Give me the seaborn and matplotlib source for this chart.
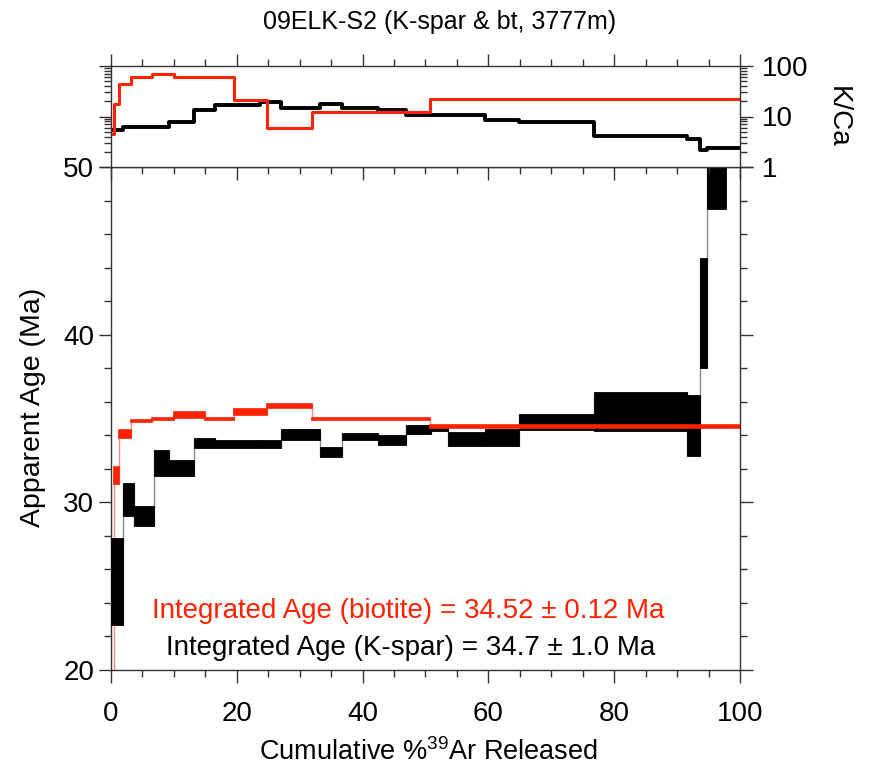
import numpy as np
import matplotlib
matplotlib.use("Agg")
import matplotlib.pyplot as plt
import seaborn as sns
from matplotlib.ticker import MultipleLocator, FixedLocator, NullFormatter, FixedFormatter

# ---------------- data ----------------
kspar_edges = [0, 1.96, 3.7, 6.88, 9.27, 13.24, 16.53, 23.7, 27.1, 33.2, 36.8, 42.4,
               46.85, 50.8, 53.6, 59.5, 64.9, 76.8, 91.6, 93.6, 94.8, 97.7, 100]
kspar_age = [25.3, 30.16, 29.18, 32.35, 32.05, 33.55, 33.47, 33.47, 34.03, 33.0, 33.93,
             33.7, 34.36, 34.44, 33.78, 33.86, 34.77, 35.43, 34.61, 41.29, 50.0, np.nan]
kspar_err = [2.6, 1.0, 0.62, 0.75, 0.45, 0.3, 0.22, 0.22, 0.32, 0.3, 0.22,
             0.3, 0.26, 0.16, 0.43, 0.49, 0.47, 1.15, 1.82, 3.26, 2.5, np.nan]
kspar_kca = [5.4, 6.1, 6.1, 6.1, 7.9, 13.4, 16.9, 19.1, 15.0, 17.4, 15.0,
             13.4, 10.5, 10.5, 10.5, 8.4, 7.8, 4.1, 3.6, 2.2, 2.4, 2.4]

bt_edges = [0, 0.4, 1.22, 3.25, 6.5, 10.05, 14.95, 19.6, 24.75, 32.0, 50.7, 100]
bt_age = [12.0, 31.6, 34.09, 34.84, 34.98, 35.22, 34.98, 35.37, 35.72, 34.98, 34.52]
bt_err = [2.0, 0.5, 0.25, 0.07, 0.07, 0.18, 0.07, 0.17, 0.12, 0.07, 0.07]
bt_kca = [4.5, 17.7, 44.0, 59.7, 68.5, 59.7, 59.7, 21.2, 6.0, 12.3, 21.9]

title = "09ELK-S2 (K-spar & bt, 3777m)"
bt_label = "Integrated Age (biotite) = 34.52 \u00b1 0.12 Ma"
ks_label = "Integrated Age (K-spar) = 34.7 \u00b1 1.0 Ma"

RED = "#ff2200"
BLACK = "#000000"
FRAME = "#333333"

sns.set_theme(style="ticks")
plt.rcParams["font.family"] = ["Liberation Sans", "DejaVu Sans"]
plt.rcParams["mathtext.fontset"] = "custom"
plt.rcParams["mathtext.rm"] = "Liberation Sans"
plt.rcParams["mathtext.it"] = "Liberation Sans:italic"
for k in ["text.color", "axes.labelcolor", "xtick.labelcolor", "ytick.labelcolor"]:
    plt.rcParams[k] = "black"

W, H = 869, 774
fig = plt.figure(figsize=(W / 100, H / 100), dpi=100)

def fx(px):
    return px / W

def fy(py):
    return 1 - py / H

L, R = 111, 740
main_top, main_bot = 167, 670
top_top = 66
ax = fig.add_axes([fx(L), fy(main_bot), fx(R) - fx(L), fy(main_top) - fy(main_bot)])
axt = fig.add_axes([fx(L), fy(main_top), fx(R) - fx(L), fy(top_top) - fy(main_top)])


def draw_spectrum(ax, edges, age, err, color, conn_color, edge_lw):
    edges = np.asarray(edges, float)
    age = np.asarray(age, float)
    err = np.asarray(err, float)
    lo = age - err
    hi = age + err
    # connectors
    for i in range(len(age) - 1):
        if np.isnan(age[i]) or np.isnan(age[i + 1]):
            continue
        y0 = min(lo[i], lo[i + 1])
        y1 = max(hi[i], hi[i + 1])
        ax.vlines(edges[i + 1], y0, y1, color=conn_color, lw=1.0, zorder=2)
    ok = ~np.isnan(age)
    ax.bar(edges[:-1][ok], (hi - lo)[ok], width=np.diff(edges)[ok], bottom=lo[ok],
           align="edge", color=color, edgecolor=color, linewidth=edge_lw, zorder=3)


draw_spectrum(ax, kspar_edges, kspar_age, kspar_err, BLACK, "#8a8a8a", 0.6)
draw_spectrum(ax, bt_edges, bt_age, bt_err, RED, "#ff8c80", 1.2)

ax.set_xlim(0, 100)
ax.set_ylim(20, 50)
ax.xaxis.set_major_locator(MultipleLocator(20))
ax.xaxis.set_minor_locator(MultipleLocator(5))
ax.yaxis.set_major_locator(MultipleLocator(10))
ax.yaxis.set_minor_locator(MultipleLocator(2))
ax.tick_params(which="both", direction="out", color=FRAME, width=1,
               left=True, right=True, bottom=True, top=False,
               labelright=False, labelsize=20, labelcolor="black")
ax.tick_params(which="major", length=9)
ax.tick_params(which="minor", length=5)
ax.tick_params(axis="x", which="major", pad=13)
ax.tick_params(axis="y", which="major", pad=3)
for s in ax.spines.values():
    s.set_visible(True)
    s.set_color(FRAME)
    s.set_linewidth(1)
ax.set_xlabel("")
ax.set_ylabel("")

# K/Ca panel
ks_x = list(kspar_edges)
ks_y = list(kspar_kca) + [kspar_kca[-1]]
bt_x = list(bt_edges)
bt_y = list(bt_kca) + [bt_kca[-1]]
sns.lineplot(x=ks_x, y=ks_y, ax=axt, color=BLACK, lw=2.8, drawstyle="steps-post",
             estimator=None, sort=False, legend=False)
sns.lineplot(x=bt_x, y=bt_y, ax=axt, color=RED, lw=2.2, drawstyle="steps-post",
             estimator=None, sort=False, legend=False)
axt.set_yscale("log")
axt.set_xlim(0, 100)
axt.set_ylim(1, 100)
axt.xaxis.set_major_locator(MultipleLocator(20))
axt.xaxis.set_minor_locator(MultipleLocator(5))
axt.yaxis.set_major_locator(FixedLocator([1, 10, 100]))
axt.yaxis.set_major_formatter(FixedFormatter(["1", "10", "100"]))
minors = [m * 10 ** d for d in range(0, 2) for m in range(2, 10)]
axt.yaxis.set_minor_locator(FixedLocator(minors))
axt.yaxis.set_minor_formatter(NullFormatter())
axt.tick_params(which="both", direction="out", color=FRAME, width=1,
                top=True, bottom=True, left=True, right=True,
                labelbottom=False, labeltop=False, labelleft=False, labelright=True,
                labelsize=20, labelcolor="black")
axt.tick_params(which="major", length=9)
axt.tick_params(which="minor", length=5)
axt.tick_params(axis="y", which="major", pad=7)
for s in axt.spines.values():
    s.set_visible(True)
    s.set_color(FRAME)
    s.set_linewidth(1)
axt.set_xlabel("")
axt.set_ylabel("")

# texts
fig.text(fx(440), fy(22), title, ha="center", va="center", fontsize=18)
fig.text(fx(33), fy(407), "Apparent Age (Ma)", ha="center", va="center",
         rotation=90, fontsize=20.5)
fig.text(fx(428), fy(752), "Cumulative %$^{39}$Ar Released", ha="center",
         va="center", fontsize=19.5)
fig.text(fx(838), fy(117), "K/Ca", ha="center", va="center", rotation=-90,
         fontsize=20)
fig.text(fx(408), fy(611), bt_label, ha="center", va="center", fontsize=20,
         color=RED)
fig.text(fx(411), fy(648), ks_label, ha="center", va="center", fontsize=20,
         color=BLACK)

fig.savefig("out.png", dpi=100, facecolor="white")
